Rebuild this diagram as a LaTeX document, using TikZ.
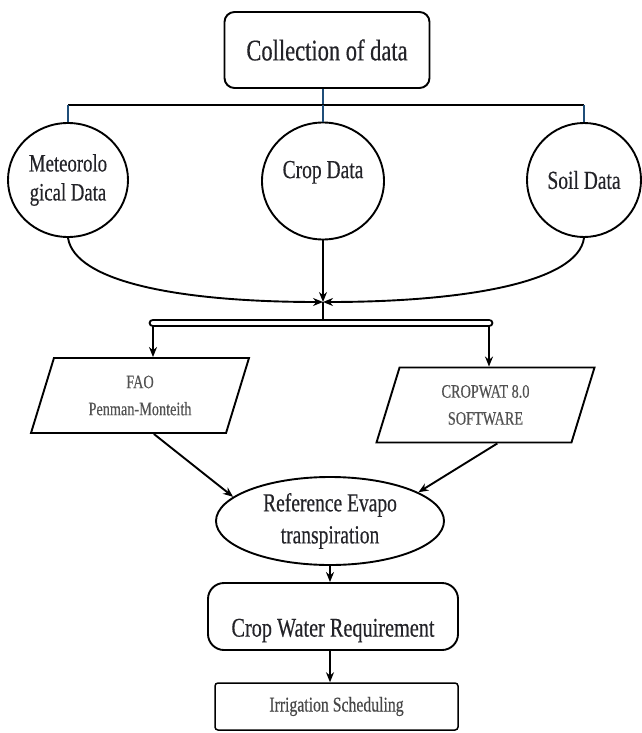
\documentclass[tikz,border=0pt]{standalone}
\usepackage{fontspec}
\setmainfont{Liberation Serif}[FakeStretch=0.75, FakeBold=0.4]
\usepackage{tikz}
\usetikzlibrary{shapes,arrows,positioning,calc,arrows.meta}

\definecolor{stemblue}{RGB}{31,78,121}
\definecolor{ink}{RGB}{35,35,40}

\begin{document}
\begin{tikzpicture}[x=1pt, y=-1pt, line width=1.9pt,
    databubble/.style={draw, ellipse, inner sep=0pt, align=center, text=ink, font=\fontsize{25}{29}\selectfont},
    slantbox/.style={draw, trapezium, trapezium left angle=60, trapezium right angle=120, trapezium stretches body,
        minimum width=218pt, minimum height=75pt, inner sep=0pt, align=center, text=black!68, font=\fontsize{19}{27}\selectfont},
    arr/.style={-{Stealth[length=10pt, width=8pt]}},
    blueline/.style={draw=stemblue, line width=2.2pt}]
    \useasboundingbox (0,0) rectangle (641,733);

    % Collection of data
    \node [draw, rounded corners=10pt, minimum width=205pt, minimum height=76pt, text=ink,
        font=\fontsize{30}{30}\selectfont] (collect) at (327,50) {Collection of data};
    \coordinate (hub) at (323,105);

    % Data sources
    \node [databubble, minimum width=120pt, minimum height=114pt] (met) at (68,180) {Meteorolo\\gical Data};
    \node [databubble, minimum width=122pt, minimum height=117pt, text depth=23pt,
        font=\fontsize{26}{29}\selectfont] (crop) at (323,181) {Crop Data};
    \node [databubble, minimum width=114pt, minimum height=114pt,
        font=\fontsize{26}{29}\selectfont] (soil) at (584,180) {Soil Data};

    \draw [blueline] (hub |- collect.south) -- (hub);
    \draw (met.north |- hub) -- (soil.north |- hub); % bus
    \draw [blueline] (met.north |- hub) -- (met.north);
    \draw [blueline] (hub) -- (crop.north);
    \draw [blueline] (soil.north |- hub) -- (soil.north);

    % Merge
    \coordinate (junc) at (323,302);
    \coordinate (busL) at (153,323);
    \coordinate (busR) at (489,323);
    \draw [arr] (met.south) .. controls (75,282) and (180,302) .. (junc);
    \draw [arr] (soil.south) .. controls (578,282) and (466,302) .. (junc);
    \draw [arr] (crop.south) -- (junc);
    \draw (junc) -- (junc |- busL);

    % Methods
    \node [slantbox] (fao) at (140,395.5) {FAO\\Penman-Monteith};
    \node [slantbox] (cropwat) at (485.5,405) {CROPWAT 8.0\\SOFTWARE};
    \draw [arr] (busL) -- (busL |- fao.north);
    \draw [arr] (busR) -- (busR |- cropwat.north);
    \draw [double=white, double distance=4.5pt, line width=2.2pt, line cap=round] (busL) -- (busR);

    % Reference evapotranspiration
    \node [databubble, minimum width=228pt, minimum height=88pt, font=\fontsize{26}{32}\selectfont]
        (ref) at (330,521) {Reference Evapo\\transpiration};
    \draw [arr] ($(fao.bottom left corner)!0.63!(fao.bottom right corner)$) -- (ref.166);
    \draw [arr] ($(cropwat.bottom left corner)!0.62!(cropwat.bottom right corner)$) -- (ref.18);

    % Crop water requirement and scheduling
    \node [draw, rounded corners=16pt, minimum width=250pt, minimum height=67pt, text height=46pt, text=ink,
        font=\fontsize{27}{27}\selectfont] (cwr) at (333,616.5) {Crop Water Requirement};
    \node [draw, rounded corners=3pt, minimum width=243pt, minimum height=47pt, line width=1.5pt, text=black!72,
        font=\fontsize{21}{21}\selectfont] (irr) at (336.5,706.5) {Irrigation Scheduling};
    \draw [arr] (ref.south) -- (ref.south |- cwr.north);
    \draw [arr] (ref.south |- cwr.south) -- (ref.south |- irr.north);
\end{tikzpicture}
\end{document}
